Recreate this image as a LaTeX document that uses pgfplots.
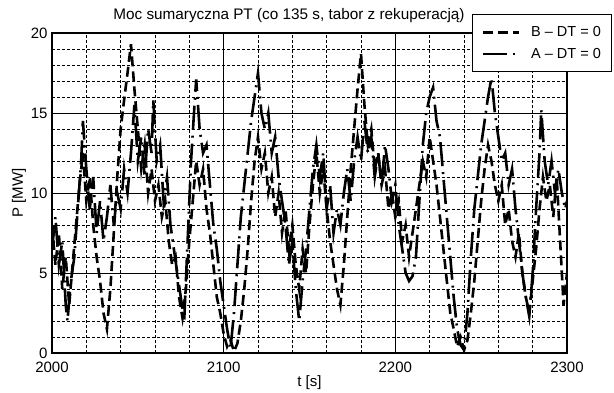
\documentclass[border=0pt]{standalone}
\usepackage{pgfplots}
\pgfplotsset{compat=1.18}
\usepackage{fontspec}
\setmainfont{Liberation Sans}
\begin{document}
\begin{tikzpicture}[x=1pt,y=1pt]
\useasboundingbox (0,0) rectangle (614,392);
\node[font=\fontsize{15.3}{17}\selectfont] at (289,376) {Moc sumaryczna PT (co 135 s, tabor z rekuperacją)};
\begin{axis}[
  at={(52pt,39pt)}, anchor=south west,
  scale only axis, width=515pt, height=320pt,
  xmin=2000, xmax=2300, ymin=0, ymax=20,
  xtick={2000,2100,2200,2300}, ytick={0,5,10,15,20},
  minor x tick num=4, minor y tick num=4,
  grid=both,
  major grid style={black, line width=0.8pt},
  minor grid style={black, line width=0.8pt, dash pattern=on 3pt off 2pt},
  major tick length=0pt, minor tick length=0pt,
  axis line style={line width=1.8pt},
  /pgf/number format/1000 sep={},
  /pgf/number format/assume math mode=true,
  ticklabel style={font=\fontsize{15}{17}\selectfont, inner ysep=1pt},
  xlabel={t [s]}, ylabel={P [MW]},
  label style={font=\fontsize{15}{17}\selectfont},
  xlabel style={yshift=2pt},
  ylabel style={yshift=-2pt},
  xticklabel style={yshift=-8pt},
  yticklabel style={xshift=-1pt},
  legend style={at={(0.8155,1.06)}, anchor=north west, draw=black, line width=1.2pt, fill=white,
    font=\fontsize{14.5}{17}\selectfont, row sep=6pt, inner xsep=9pt, inner ysep=10pt,
    /tikz/every odd column/.append style={column sep=9pt}},
  legend cell align=left,
  legend image code/.code={\draw[#1] (0pt,0pt) -- (36pt,0pt);},
]
\addplot[black, line width=2.6pt, dash pattern=on 10pt off 5pt] coordinates {
(2000,8.0)(2002,5.5)(2004,7.5)(2006,4.0)(2008,6.0)(2010,3.0)(2012,5.5)(2014,8.0)(2016,10.5)(2018,12.5)
(2020,9.5)(2022,11.0)(2024,8.0)(2026,6.0)(2028,4.5)(2030,2.5)(2032,1.5)(2034,4.0)(2036,7.5)(2038,11.0)
(2040,14.0)(2042,15.8)(2044,17.5)(2046,19.3)(2048,16.5)(2050,14.0)(2052,11.5)(2054,13.0)(2056,10.0)(2058,11.5)
(2060,9.5)(2062,10.5)(2064,8.5)(2066,9.5)(2068,7.0)(2070,5.5)(2072,6.0)(2074,3.5)(2076,2.2)(2078,4.0)
(2080,7.0)(2082,9.5)(2084,12.0)(2086,10.5)(2088,11.5)(2090,9.0)(2092,7.5)(2094,5.5)(2096,3.5)(2098,2.5)
(2100,1.2)(2102,0.4)(2104,0.8)(2106,0.1)(2108,0.6)(2110,2.0)(2112,4.0)(2114,6.5)(2116,9.5)(2118,12.0)
(2120,13.5)(2122,11.5)(2124,12.5)(2126,10.0)(2128,11.0)(2130,8.5)(2132,10.0)(2134,7.5)(2136,9.0)(2138,6.5)
(2140,8.0)(2142,5.5)(2144,4.0)(2146,6.5)(2148,5.0)(2150,8.0)(2152,10.5)(2154,12.5)(2156,10.0)(2158,11.5)
(2160,9.0)(2162,7.0)(2164,5.5)(2166,4.0)(2168,3.0)(2170,5.5)(2172,8.5)(2174,11.5)(2176,14.0)(2178,16.5)
(2180,18.7)(2182,15.5)(2184,13.0)(2186,14.0)(2188,11.5)(2190,12.5)(2192,10.5)(2194,11.5)(2196,9.0)(2198,10.0)
(2200,8.5)(2202,9.5)(2204,7.0)(2206,8.0)(2208,6.0)(2210,7.5)(2212,9.0)(2214,10.5)(2216,12.0)(2218,11.0)
(2220,13.5)(2222,12.0)(2224,10.5)(2226,8.5)(2228,6.5)(2230,4.5)(2232,2.5)(2234,1.5)(2236,0.4)(2238,1.0)
(2240,0.2)(2242,0.8)(2244,2.5)(2246,4.5)(2248,7.0)(2250,9.5)(2252,11.5)(2254,13.0)(2256,12.0)(2258,10.5)
(2260,9.5)(2262,10.5)(2264,8.0)(2266,9.0)(2268,7.0)(2270,6.0)(2272,7.5)(2274,5.0)(2276,3.5)(2278,2.5)
(2280,4.5)(2282,6.5)(2284,9.0)(2286,11.0)(2288,9.5)(2290,10.5)(2292,8.5)(2294,11.0)(2296,7.0)(2298,3.0)
(2300,5.0)
};
\addlegendentry{B – DT = 0}
\addplot[black, line width=2.6pt, dash pattern=on 24pt off 6pt on 2pt off 6pt] coordinates {
(2000,6.5)(2002,8.5)(2004,5.5)(2006,7.0)(2008,3.0)(2009,2.0)(2011,4.5)(2013,6.0)(2015,9.0)(2017,12.0)
(2018,14.5)(2020,11.5)(2022,9.0)(2024,11.0)(2026,7.5)(2028,9.5)(2030,7.0)(2032,8.5)(2034,10.5)(2036,8.0)
(2038,10.0)(2040,9.0)(2042,11.5)(2044,10.0)(2046,12.5)(2048,15.5)(2050,12.0)(2052,13.5)(2054,11.0)(2056,14.0)
(2058,12.5)(2059,15.8)(2061,12.0)(2063,13.0)(2065,9.5)(2067,11.0)(2069,8.0)(2071,6.5)(2073,5.0)(2075,3.5)
(2077,2.0)(2079,7.0)(2081,12.0)(2083,15.5)(2084,17.1)(2086,14.0)(2088,12.5)(2090,13.0)(2092,10.5)(2094,8.0)
(2096,6.5)(2098,4.5)(2100,3.0)(2102,1.5)(2104,0.3)(2106,2.5)(2108,5.5)(2110,8.5)(2112,10.5)(2114,12.5)
(2116,14.5)(2118,16.0)(2120,17.5)(2122,15.0)(2124,14.0)(2126,15.0)(2128,12.5)(2130,13.5)(2132,11.0)(2134,9.5)
(2136,8.0)(2138,5.5)(2140,7.0)(2142,4.0)(2144,2.0)(2146,4.5)(2148,6.5)(2150,9.0)(2152,11.5)(2154,13.0)
(2156,11.0)(2158,12.5)(2160,9.0)(2162,10.5)(2164,7.5)(2166,9.0)(2168,8.0)(2170,10.0)(2172,11.5)(2174,9.5)
(2176,12.0)(2178,13.5)(2180,12.0)(2182,14.5)(2184,12.5)(2186,13.5)(2188,11.0)(2190,12.5)(2192,10.5)(2194,13.0)
(2196,11.5)(2198,9.5)(2200,10.5)(2202,8.0)(2204,6.5)(2206,5.0)(2208,4.5)(2210,4.8)(2212,6.0)(2214,9.5)
(2216,13.0)(2218,15.0)(2220,16.0)(2222,16.6)(2224,14.5)(2226,13.5)(2228,11.0)(2230,8.5)(2232,6.0)(2234,3.5)
(2236,1.5)(2238,0.5)(2240,0.2)(2242,2.5)(2244,6.0)(2246,9.0)(2248,11.0)(2250,13.0)(2252,14.5)(2254,16.0)
(2256,17.2)(2258,15.0)(2260,13.5)(2262,12.0)(2264,12.5)(2266,10.5)(2268,11.5)(2270,9.0)(2272,7.0)(2274,5.0)
(2276,3.5)(2278,2.3)(2280,5.0)(2282,9.0)(2284,12.5)(2285,15.2)(2287,12.0)(2289,10.5)(2291,12.0)(2293,10.0)
(2295,11.5)(2297,10.0)(2299,9.0)(2300,9.5)
};
\addlegendentry{A – DT = 0}
\end{axis}
\end{tikzpicture}
\end{document}
